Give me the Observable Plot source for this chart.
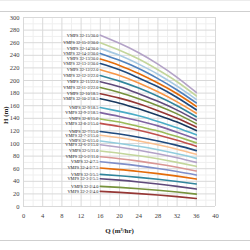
<!DOCTYPE html>
<html>
<head>
<meta charset="utf-8">
<script src="https://cdn.jsdelivr.net/npm/d3@7"></script>
<script src="https://cdn.jsdelivr.net/npm/@observablehq/plot@0.6"></script>
<style>
  html, body { margin: 0; padding: 0; background: #fff; }
  #wrap { position: relative; width: 250px; height: 250px; overflow: hidden; }
  .rule { position: absolute; left: 0; width: 250px; height: 0; }
</style>
</head>
<body>
<div id="wrap">
  <div id="chart"></div>
  <div class="rule" style="top:0px;border-top:1px solid #ececec"></div>
  <div class="rule" style="top:11px;border-top:1px solid #cfcfcf"></div>
  <div class="rule" style="top:240px;border-top:1px solid #cfcfcf"></div>
</div>
<script>
const models = ["VMPS 32-15/30.0","VMPS 32-15-2/30.0","VMPS 32-14/30.0","VMPS 32-14-2/30.0","VMPS 32-13/30.0","VMPS 32-13-2/30.0","VMPS 32-12/22.0","VMPS 32-12-2/22.0","VMPS 32-11/22.0","VMPS 32-11-2/22.0","VMPS 32-10/18.5","VMPS 32-10-2/18.5","VMPS 32-9/18.5","VMPS 32-9-2/18.5","VMPS 32-8/15.0","VMPS 32-8-2/15.0","VMPS 32-7/15.0","VMPS 32-7-2/15.0","VMPS 32-6/15.0","VMPS 32-6-2/15.0","VMPS 32-5/11.0","VMPS 32-5-2/11.0","VMPS 32-4/7.5","VMPS 32-4-2/7.5","VMPS 32-3/5.5","VMPS 32-3-2/5.5","VMPS 32-2/4.0","VMPS 32-2-2/4.0"];
const flows = [16, 20, 24, 28, 32, 36];
const h16 = [272,260,251,243,234,227,217,208,198,189,179,171,157,149,139,132,119,113,104,98,88,79,71,61,51,44,32,24];
const h20 = [259,248,240,232,224,217,208,199,190,181,172,164,151,143,134,127,115,109,100,94,84.6,75.9,68,58.6,48.9,41.8,30.3,22.4];
const h24 = [244,234,226,219,211,204,196,188,179,171,163,155,144,136,127,121,110,104,95.5,89.4,80.5,72,64.5,55.6,46.3,39,28.2,20.5];
const h28 = [226,217,210,203,196,190,182,175,167,160,152,145,135,128,120,113.5,104,98,90,83.8,75.7,67.5,60.3,52.2,43.2,35.7,25.8,18.3];
const h32 = [205,198,191,185,179,173,166,160,153,147,140,134,125,118,111,105,97,91,83.6,77.3,70,62.3,55.5,48.2,39.7,32,22.9,15.7];
const h36 = [181,175.5,170,164.5,159,153.5,148,142.5,137,131.5,126,120.5,113.7,107,101,95.5,88.7,82.8,76.4,70,63.7,56.4,50,43.6,35.7,27.7,19.7,12.7];
const palette = ["#B3A2C7","#C3D69B","#A6C9E2","#4F81BD","#E46C0A","#1F497D","#F79646","#31859C","#604A7B","#76923C","#943634","#17375E","#4BACC6","#8064A2","#9BBB59","#C0504D","#1F497D","#FAC090","#93CDDD","#B3A2C7","#C3D69B","#D99694","#7F8FC9","#E46C0A","#31859C","#5F497A","#77933C","#953735"];
const xTicks = [0,4,8,12,16,20,24,28,32,36,40];
const yTicks = [0,20,40,60,80,100,120,140,160,180,200,220,240,260,280,300];
const xMinor = [2,6,10,14,18,22,26,30,34,38];
const yMinor = [10,30,50,70,90,110,130,150,170,190,210,230,250,270,290];
const xTitle = "Q (m³/hr)";
const yTitle = "H (m)";

const headCols = [h16, h20, h24, h28, h32, h36];
const rows = [];
models.forEach((m, i) => flows.forEach((q, j) => rows.push({name: m, q, h: headCols[j][i]})));
const starts = models.map((m, i) => ({name: m, q: flows[0], h: h16[i]}));

const chart = Plot.plot({
  width: 250,
  height: 250,
  marginTop: 17,
  marginBottom: 44,
  marginLeft: 23,
  marginRight: 35,
  style: {fontFamily: "'Liberation Serif', 'DejaVu Serif', serif", background: "transparent", overflow: "visible"},
  x: {domain: [0, 40]},
  y: {domain: [0, 300]},
  color: {domain: models, range: palette},
  marks: [
    Plot.gridX(xMinor, {stroke: "#efefef", strokeOpacity: 1}),
    Plot.gridY(yMinor, {stroke: "#efefef", strokeOpacity: 1}),
    Plot.gridX(xTicks, {stroke: "#d9d9d9", strokeOpacity: 1}),
    Plot.gridY(yTicks, {stroke: "#d9d9d9", strokeOpacity: 1}),
    Plot.axisX(xTicks, {tickSize: 0, tickPadding: 7, fontSize: 6.5, label: null, fill: "#404040"}),
    Plot.axisY(yTicks, {tickSize: 0, tickPadding: 4, fontSize: 6.5, label: null, fill: "#404040"}),
    Plot.line(rows, {x: "q", y: "h", z: "name", stroke: "name", strokeWidth: 1.6, curve: "natural"}),
    Plot.text(starts, {x: "q", y: "h", text: "name", textAnchor: "end", dx: -2, fontSize: 4.3, fill: "#222"}),
    Plot.text([xTitle], {frameAnchor: "bottom", dy: 26, text: d => d, fontSize: 7, fontWeight: "bold", fill: "#222"}),
    Plot.text([yTitle], {x: () => 0, y: () => 145, dx: -18, rotate: -90, textAnchor: "middle", text: d => d, fontSize: 7, fontWeight: "bold", fill: "#222"})
  ]
});
document.getElementById("chart").appendChild(chart);
</script>
</body>
</html>
